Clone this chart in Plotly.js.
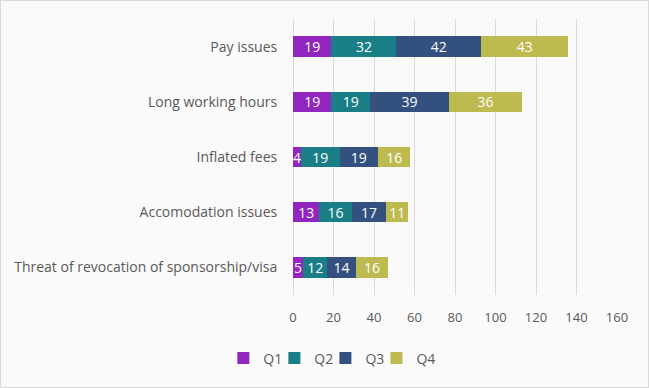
<!DOCTYPE html>
<html>
<head>
<meta charset="utf-8">
<script src="https://cdn.plot.ly/plotly-3.0.1.min.js"></script>
<style>
html,body{margin:0;padding:0;background:#fafafa;}
#chart{width:647px;height:386px;border:1px solid #d9d9d9;}
</style>
</head>
<body>
<div id="chart"></div>
<script>
const categories = ["Pay issues", "Long working hours", "Inflated fees", "Accomodation issues", "Threat of revocation of sponsorship/visa"];
const seriesNames = ["Q1", "Q2", "Q3", "Q4"];
const q1 = [19, 19, 4, 13, 5];
const q2 = [32, 19, 19, 16, 12];
const q3 = [42, 39, 19, 17, 14];
const q4 = [43, 36, 16, 11, 16];
const xTicks = [0, 20, 40, 60, 80, 100, 120, 140, 160];
const colors = ["#9225BE", "#1A7E86", "#33507F", "#BDBA4F"];

const font = "Open Sans, Calibri, sans-serif";
const values = [q1, q2, q3, q4];
const legendIds = ["legend", "legend2", "legend3", "legend4"];
const traces = values.map((v, i) => ({
  type: "bar",
  orientation: "h",
  name: seriesNames[i],
  legend: legendIds[i],
  y: categories,
  x: v,
  text: v.map(String),
  textposition: "inside",
  insidetextanchor: "middle",
  constraintext: "none",
  textangle: 0,
  textfont: {color: "#ffffff", size: 14, family: font},
  marker: {color: colors[i], line: {width: 0}},
  hoverinfo: "x+y+name"
}));

const layout = {
  width: 647, height: 386,
  barmode: "stack",
  bargap: 0.63,
  paper_bgcolor: "#fafafa",
  plot_bgcolor: "#fafafa",
  margin: {l: 292, r: 31, t: 18, b: 82, pad: 0},
  font: {family: font, color: "#595959", size: 13},
  showlegend: true,
  xaxis: {
    range: [0, 160],
    tickvals: xTicks,
    ticktext: xTicks.map(String),
    showgrid: true,
    gridcolor: "#d9d9d9",
    gridwidth: 1,
    zeroline: true,
    zerolinecolor: "#d9d9d9",
    showline: false,
    ticks: "outside",
    ticklen: 10,
    tickcolor: "rgba(0,0,0,0)",
    tickfont: {size: 13, color: "#595959"},
    fixedrange: true
  },
  yaxis: {
    type: "category",
    autorange: "reversed",
    showgrid: false,
    zeroline: false,
    showline: false,
    ticks: "outside",
    ticklen: 12,
    tickcolor: "rgba(0,0,0,0)",
    tickfont: {size: 14, color: "#595959"},
    fixedrange: true
  }
};
legendIds.forEach((id, i) => {
  layout[id] = {
    orientation: "h",
    x: -0.215 + i * 0.1575, xanchor: "left",
    y: -0.23, yanchor: "middle",
    bgcolor: "rgba(0,0,0,0)",
    font: {size: 14, color: "#595959", family: font},
    itemwidth: 30
  };
});

Plotly.newPlot("chart", traces, layout, {displayModeBar: false, staticPlot: true});
</script>
</body>
</html>
